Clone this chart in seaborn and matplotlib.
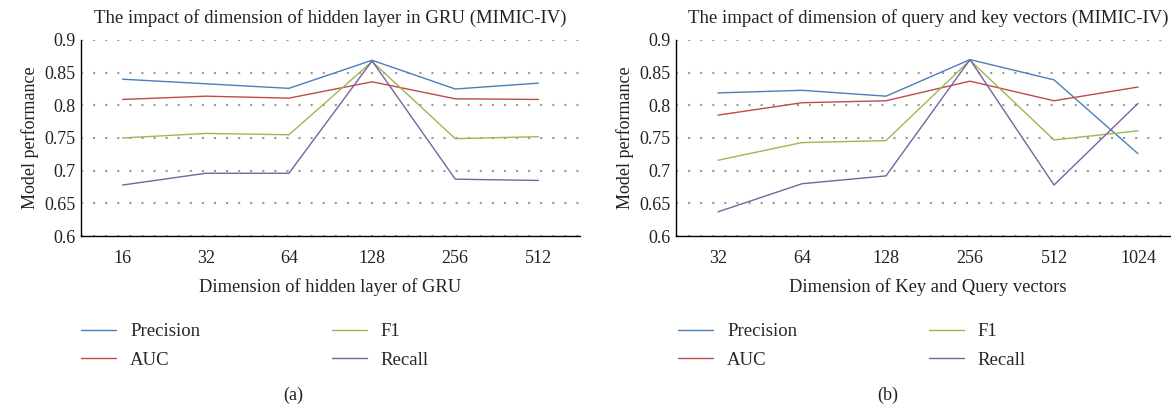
import pandas as pd
import matplotlib.pyplot as plt
import seaborn as sns

# ---- data ----
metrics = ["Precision", "AUC", "F1", "Recall"]

gru_dims = ["16", "32", "64", "128", "256", "512"]
gru_precision = [0.840, 0.833, 0.826, 0.869, 0.825, 0.834]
gru_auc = [0.809, 0.814, 0.811, 0.836, 0.810, 0.809]
gru_f1 = [0.750, 0.757, 0.755, 0.867, 0.749, 0.752]
gru_recall = [0.678, 0.696, 0.696, 0.868, 0.687, 0.685]

qk_dims = ["32", "64", "128", "256", "512", "1024"]
qk_precision = [0.819, 0.823, 0.814, 0.870, 0.839, 0.726]
qk_auc = [0.785, 0.804, 0.807, 0.837, 0.807, 0.828]
qk_f1 = [0.716, 0.743, 0.746, 0.869, 0.747, 0.761]
qk_recall = [0.637, 0.680, 0.692, 0.870, 0.678, 0.803]

palette = {"Precision": "#4a7ebb", "AUC": "#be4b48",
           "F1": "#98b954", "Recall": "#7d60a0"}


def to_long(dims, series):
    rows = []
    for name, vals in zip(metrics, series):
        for d, v in zip(dims, vals):
            rows.append({"dim": d, "metric": name, "value": v})
    return pd.DataFrame(rows)


df_gru = to_long(gru_dims, [gru_precision, gru_auc, gru_f1, gru_recall])
df_qk = to_long(qk_dims, [qk_precision, qk_auc, qk_f1, qk_recall])

sns.set_theme(style="white")
plt.rcParams["font.family"] = ["Liberation Serif", "DejaVu Serif"]
plt.rcParams["font.size"] = 10.5

fig = plt.figure(figsize=(11.71, 4.08), dpi=100)
W, H = 1171, 408


def draw(df, rect, title, xlabel, legend_x, tag, tag_x):
    ax = fig.add_axes([rect[0] / W, 1 - rect[3] / H,
                       (rect[2] - rect[0]) / W, (rect[3] - rect[1]) / H])
    sns.lineplot(data=df, x="dim", y="value", hue="metric", palette=palette,
                 hue_order=metrics, sort=False, linewidth=1.0, ax=ax,
                 legend=False)
    ax.set_xlim(-0.5, 5.5)
    ax.set_ylim(0.6, 0.9)
    ax.set_yticks([0.6, 0.65, 0.7, 0.75, 0.8, 0.85, 0.9])
    ax.set_yticklabels(["0.6", "0.65", "0.7", "0.75", "0.8", "0.85", "0.9"])
    ax.yaxis.grid(True, linestyle=(0, (1, 4.8)), color="#999999",
                  linewidth=1.5, dash_capstyle="butt")
    ax.xaxis.grid(False)
    for s in ["top", "right"]:
        ax.spines[s].set_visible(False)
    for s in ["left", "bottom"]:
        ax.spines[s].set_color("black")
        ax.spines[s].set_linewidth(1.0)
        ax.spines[s].set_zorder(3)
    ax.tick_params(axis="both", length=0, labelsize=13, colors="#222222")
    ax.tick_params(axis="x", pad=10)
    ax.tick_params(axis="y", pad=4)
    ax.set_title(title, fontsize=13.5, pad=12, color="#222222")
    ax.set_xlabel(xlabel, fontsize=13.3, labelpad=8, color="#222222")
    ax.set_ylabel("Model performance", fontsize=13, labelpad=4, color="#222222")

    handles = [plt.Line2D([], [], color=palette[m], linewidth=1.0) for m in metrics]
    fig.legend(handles, metrics, loc="upper left", ncol=2, frameon=False,
               bbox_to_anchor=(legend_x / W, 1 - 323 / H), fontsize=13.5,
               handlelength=1.87, handletextpad=0.75, columnspacing=7.0,
               labelspacing=0.62, borderaxespad=0, borderpad=0)
    fig.text(tag_x / W, 1 - 395 / H, tag, ha="center", va="center",
             fontsize=13, color="#222222")
    return ax


draw(df_gru, (81, 40, 580, 236),
     "The impact of dimension of hidden layer in GRU (MIMIC-IV)",
     "Dimension of hidden layer of GRU", 81, "(a)", 293)
draw(df_qk, (676, 40, 1180, 236),
     "The impact of dimension of query and key vectors (MIMIC-IV)",
     "Dimension of Key and Query vectors", 678, "(b)", 888)

fig.savefig("out.png", dpi=100)
